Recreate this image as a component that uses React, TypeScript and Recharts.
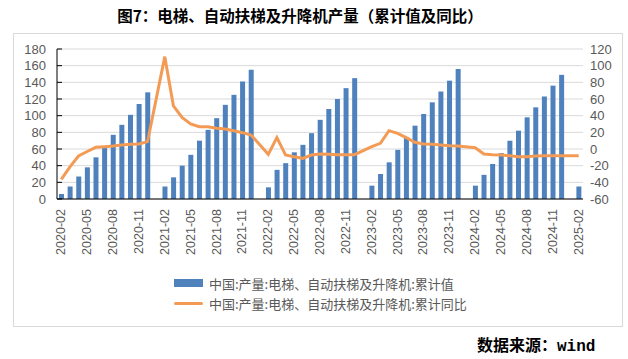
import React from 'react'
import { ComposedChart, Bar, Line, XAxis, YAxis, CartesianGrid } from 'recharts'

// 月份（1月无单独数据）
const months = [
  '2020-02', '2020-03', '2020-04', '2020-05', '2020-06', '2020-07', '2020-08', '2020-09', '2020-10', '2020-11', '2020-12',
  '2021-01', '2021-02', '2021-03', '2021-04', '2021-05', '2021-06', '2021-07', '2021-08', '2021-09', '2021-10', '2021-11', '2021-12',
  '2022-01', '2022-02', '2022-03', '2022-04', '2022-05', '2022-06', '2022-07', '2022-08', '2022-09', '2022-10', '2022-11', '2022-12',
  '2023-01', '2023-02', '2023-03', '2023-04', '2023-05', '2023-06', '2023-07', '2023-08', '2023-09', '2023-10', '2023-11', '2023-12',
  '2024-01', '2024-02', '2024-03', '2024-04', '2024-05', '2024-06', '2024-07', '2024-08', '2024-09', '2024-10', '2024-11', '2024-12',
  '2025-01', '2025-02',
]

// 累计值（万台）
const cumValue = [
  6, 15, 27, 38, 50, 63, 77, 89, 101, 114, 128,
  null, 15, 26, 40, 53, 70, 83, 97, 113, 125, 141, 155,
  null, 14, 35, 43, 56, 65, 79, 95, 108, 120, 133, 145,
  null, 16, 30, 44, 59, 74, 88, 102, 116, 129, 142, 156,
  null, 16, 29, 42, 55, 70, 82, 98, 110, 123, 136, 149,
  null, 15,
]

// 累计同比（%）
const cumYoy = [
  -36.4, -21.5, -8.4, -3, 2, 2.8, 3.6, 4.8, 5.6, 6, 8.8,
  null, 110.8, 51.6, 38, 30, 26.8, 26.8, 24.8, 24, 22, 19.6, 16.8,
  null, -6.4, 13.6, -7.2, -9.2, -11.2, -7.2, -6, -6.4, -6.8, -6.8, -6.8,
  null, 2.8, 6.8, 22, 18.8, 13.6, 8, 6, 5.6, 4.8, 4, 3.6,
  null, 1.6, -6, -6.8, -7.2, -8, -9.2, -9.2, -8.4, -8, -8, -8,
  null, -8,
]

const leftTicks = [0, 20, 40, 60, 80, 100, 120, 140, 160, 180]
const rightTicks = [-60, -40, -20, 0, 20, 40, 60, 80, 100, 120]

const barName = '中国:产量:电梯、自动扶梯及升降机:累计值'
const lineName = '中国:产量:电梯、自动扶梯及升降机:累计同比'

const data = months.map((m, i) => ({ month: m, value: cumValue[i], yoy: cumYoy[i] }))

const axisFont = { fill: '#595959', fontSize: 13, fontFamily: 'Liberation Sans, Arial, sans-serif' }

const XTick = (props: any) => {
  const { x, y, payload } = props
  const ty = y + 2
  return (
    <text
      x={x}
      y={ty}
      transform={`rotate(-90 ${x} ${ty})`}
      textAnchor="end"
      dominantBaseline="central"
      fill="#595959"
      fontSize={12.5}
      fontFamily="Liberation Sans, Arial, sans-serif"
    >
      {payload.value}
    </text>
  )
}

const App = () => {
  return (
    <div style={{ position: 'absolute', left: 0, top: 0, width: 628, height: 359, background: '#fff' }}>
      <div
        style={{
          position: 'absolute', left: 13, top: 33, width: 610, height: 294,
          border: '1px solid #d9d9d9', boxSizing: 'border-box',
        }}
      />
      <div
        style={{
          position: 'absolute', left: 0, top: 5, width: 600, textAlign: 'center',
          fontFamily: '"Noto Sans CJK SC", sans-serif', fontWeight: 700, fontSize: 15.5,
          lineHeight: '20px', color: '#000',
        }}
      >
        图7：电梯、自动扶梯及升降机产量（累计值及同比）
      </div>
      <div style={{ position: 'absolute', left: 0, top: 0 }}>
        <ComposedChart width={628} height={359} data={data} margin={{ top: 49, right: 0, bottom: 0, left: 0 }}>
          <CartesianGrid vertical={false} stroke="#d9d9d9" yAxisId="left" />
          <XAxis
            dataKey="month"
            interval={2}
            height={160}
            axisLine={{ stroke: '#000' }}
            tickLine={false}
            tick={<XTick />}
          />
          <YAxis
            yAxisId="left"
            orientation="left"
            width={57}
            domain={[0, 180]}
            ticks={leftTicks}
            interval={0}
            axisLine={{ stroke: '#000' }}
            tickLine={{ stroke: '#000' }}
            tickSize={-5}
            tickMargin={16}
            tick={axisFont}
          />
          <YAxis
            yAxisId="right"
            orientation="right"
            width={45}
            domain={[-60, 120]}
            ticks={rightTicks}
            interval={0}
            axisLine={false}
            tickLine={false}
            tickMargin={1}
            tick={axisFont}
          />
          <Bar yAxisId="left" dataKey="value" name={barName} fill="#4F81BD" barSize={5} isAnimationActive={false} />
          <Line
            yAxisId="right"
            type="linear"
            dataKey="yoy"
            name={lineName}
            stroke="#F39B55"
            strokeWidth={3}
            dot={false}
            connectNulls
            isAnimationActive={false}
          />
        </ComposedChart>
      </div>
      <div
        style={{
          position: 'absolute', left: 174, top: 273,
          fontFamily: '"Noto Sans CJK SC", sans-serif', fontSize: 13, color: '#595959',
        }}
      >
        <div style={{ display: 'flex', alignItems: 'center', height: 20 }}>
          <span style={{ display: 'inline-block', width: 29, height: 8, background: '#4F81BD', marginRight: 6 }} />
          <span>{barName}</span>
        </div>
        <div style={{ display: 'flex', alignItems: 'center', height: 20 }}>
          <span style={{ display: 'inline-block', width: 29, height: 3, background: '#F39B55', borderRadius: 2, marginRight: 6 }} />
          <span>{lineName}</span>
        </div>
      </div>
      <div
        style={{
          position: 'absolute', left: 477, top: 334, lineHeight: '20px',
          fontWeight: 700, fontSize: 16, color: '#000',
        }}
      >
        <span style={{ fontFamily: '"Noto Sans CJK SC", sans-serif' }}>数据来源：</span>
        <span style={{ fontFamily: '"Liberation Mono", monospace' }}>wind</span>
      </div>
    </div>
  )
}

export default App
